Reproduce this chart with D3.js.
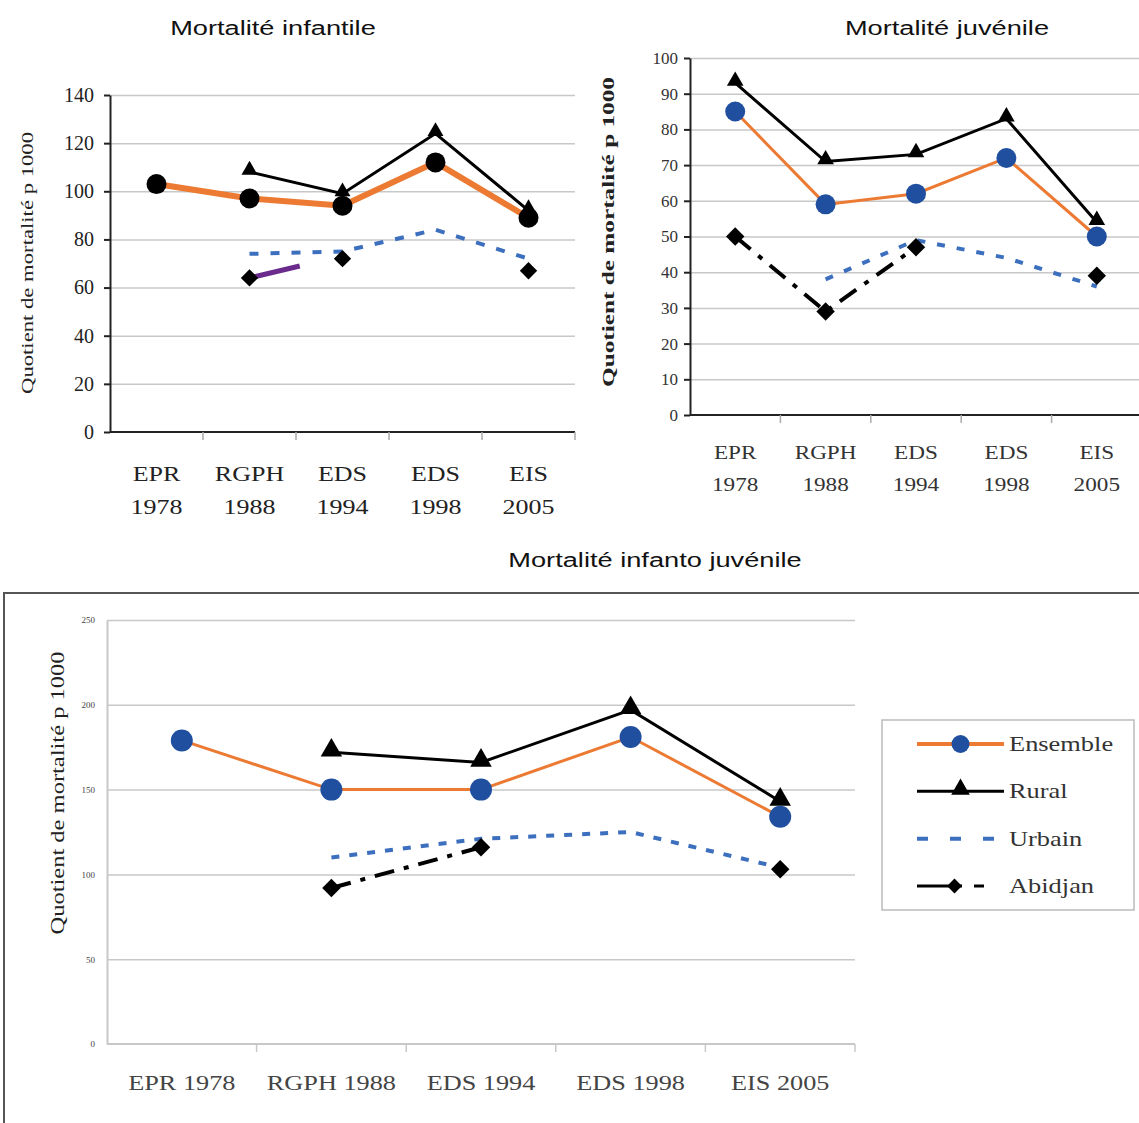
<!DOCTYPE html>
<html>
<head>
<meta charset="utf-8">
<script src="https://cdn.jsdelivr.net/npm/d3@7"></script>
<style>
  body { margin: 0; background: #fff; }
  svg { display: block; }
</style>
</head>
<body>
<svg id="chart" width="1139" height="1123"></svg>
<script>
// categories (x axis)
const categories = ["EPR 1978", "RGPH 1988", "EDS 1994", "EDS 1998", "EIS 2005"];

// Mortalité infantile
const infEnsemble = [103, 97, 94, 112, 89];
const infRural = [null, 108, 99, 124, 92];
const infUrbain = [null, 74, 75, 84, 72];
const infAbidjan = [null, 64, 72, null, 67];
const infTicks = [0, 20, 40, 60, 80, 100, 120, 140];

// Mortalité juvénile
const juvEnsemble = [85, 59, 62, 72, 50];
const juvRural = [93, 71, 73, 83, 54];
const juvUrbain = [null, 38, 49, 44, 36];
const juvAbidjan = [50, 29, 47, null, 39];
const juvTicks = [0, 10, 20, 30, 40, 50, 60, 70, 80, 90, 100];

// Mortalité infanto juvénile
const ijEnsemble = [179, 150, 150, 181, 134];
const ijRural = [null, 172, 166, 197, 143];
const ijUrbain = [null, 110, 121, 125, 104];
const ijAbidjan = [null, 92, 116, null, 103];
const ijTicks = [0, 50, 100, 150, 200, 250];

const legendNames = ["Ensemble", "Rural", "Urbain", "Abidjan"];

const orange = "#ec7a33";
const blue = "#1f4f9e";
const urbBlue = "#3d6fbf";
const serif = "'Liberation Serif', 'Times New Roman', serif";
const sans = "'Liberation Sans', Arial, sans-serif";

const svg = d3.select("#chart");

// the scanned figure has horizontally stretched lettering
function stretch(sel, k) {
  sel.each(function () {
    const w = this.getComputedTextLength();
    d3.select(this).attr("textLength", w * k).attr("lengthAdjust", "spacingAndGlyphs");
  });
}

function drawChart(opt) {
  const g = svg.append("g");
  const x = d3.scaleBand().domain(categories).range(opt.xRange);
  const y = d3.scaleLinear().domain([0, d3.max(opt.ticks)]).range(opt.yRange);
  const cx = c => x(c) + x.bandwidth() / 2;

  // title
  g.append("text")
    .attr("x", opt.titleX).attr("y", opt.titleY)
    .attr("text-anchor", "middle")
    .style("font-family", sans).style("font-size", "20px").attr("fill", "#111")
    .text(opt.title)
    .call(stretch, 1.36);

  // gridlines
  g.append("g")
    .attr("transform", `translate(${opt.xRange[0]},0)`)
    .call(d3.axisLeft(y).tickValues(opt.ticks.filter(t => t > 0))
      .tickSize(-(opt.gridEnd - opt.xRange[0])).tickFormat(""))
    .call(a => a.select(".domain").remove())
    .call(a => a.selectAll("line").attr("stroke", "#c8c8c8").attr("stroke-width", 1.5));

  // y axis
  g.append("g")
    .attr("transform", `translate(${opt.xRange[0]},0)`)
    .call(d3.axisLeft(y).tickValues(opt.ticks).tickSize(opt.yTick).tickPadding(opt.yPad).tickSizeOuter(0))
    .call(a => a.select(".domain").attr("stroke", opt.axisColor).attr("stroke-width", 2))
    .call(a => a.selectAll("line").attr("stroke", opt.axisColor).attr("stroke-width", 2))
    .call(a => a.selectAll("text")
      .style("font-family", serif).style("font-size", opt.yFont + "px").attr("fill", opt.tickColor));

  // x axis line + boundary ticks
  g.append("line")
    .attr("x1", opt.xRange[0]).attr("x2", opt.gridEnd)
    .attr("y1", y(0)).attr("y2", y(0))
    .attr("stroke", opt.axisColor).attr("stroke-width", 2);
  const bounds = categories.map(c => x(c)).concat([x.range()[1]]).slice(1);
  g.selectAll(".xtick").data(bounds).join("line")
    .attr("x1", d => d).attr("x2", d => d)
    .attr("y1", y(0)).attr("y2", y(0) + 8)
    .attr("stroke", opt.axisColor === "#222" ? "#aaa" : opt.axisColor).attr("stroke-width", 1.5);

  // x labels
  const xl = g.selectAll(".xlab").data(categories).join("text")
    .attr("text-anchor", "middle")
    .style("font-family", serif).style("font-size", opt.xFont + "px").attr("fill", opt.tickColor);
  if (opt.twoLine) {
    xl.each(function (c) {
      const parts = c.split(" ");
      const t = d3.select(this);
      t.append("tspan").attr("x", cx(c)).attr("y", opt.xLabY).text(parts[0]);
      t.append("tspan").attr("x", cx(c)).attr("y", opt.xLabY + opt.xLabGap).text(parts[1]);
    });
    xl.selectAll("tspan").call(stretch, opt.xStretch);
  } else {
    xl.attr("x", cx).attr("y", opt.xLabY).text(c => c).call(stretch, opt.xStretch);
  }

  // y label
  g.append("text")
    .attr("transform", `translate(${opt.yLabX},${opt.yLabY}) rotate(-90)`)
    .attr("text-anchor", "middle")
    .attr("textLength", opt.yLabLen).attr("lengthAdjust", "spacingAndGlyphs")
    .style("font-family", serif).style("font-size", opt.yLabFont + "px")
    .style("font-weight", opt.yLabBold ? "bold" : "normal").attr("fill", "#222")
    .text("Quotient de mortalité p 1000");

  const pts = vals => categories.map((c, i) => ({ c, v: vals[i] }));
  const line = d3.line().defined(d => d.v != null).x(d => cx(d.c)).y(d => y(d.v));

  // Urbain (dashed, no markers)
  g.append("path").datum(pts(opt.urbain))
    .attr("d", line).attr("fill", "none")
    .attr("stroke", urbBlue).attr("stroke-width", 4).attr("stroke-dasharray", opt.urbDash);

  // Abidjan line
  if (opt.abidjanLine) {
    g.append("path").datum(pts(opt.abidjan))
      .attr("d", line).attr("fill", "none")
      .attr("stroke", "#000").attr("stroke-width", 4).attr("stroke-dasharray", "20,10,5,10");
  }
  // stray purple segment in the infantile chart
  if (opt.purple) {
    const x0 = cx(categories[1]), x1 = cx(categories[2]);
    const y0 = y(opt.abidjan[1]), y1 = y(opt.abidjan[2]);
    g.append("line")
      .attr("x1", x0).attr("y1", y0)
      .attr("x2", x0 + (x1 - x0) * 0.54).attr("y2", y0 + (y1 - y0) * 0.62)
      .attr("stroke", "#6a2b8c").attr("stroke-width", 5);
  }
  g.selectAll(".dia").data(pts(opt.abidjan).filter(d => d.v != null)).join("path")
    .attr("d", d3.symbol(d3.symbolSquare, opt.diaSize))
    .attr("transform", d => `translate(${cx(d.c)},${y(d.v)}) rotate(45)`)
    .attr("fill", "#000");

  // Rural
  g.append("path").datum(pts(opt.rural))
    .attr("d", line).attr("fill", "none")
    .attr("stroke", "#000").attr("stroke-width", 3);
  g.selectAll(".tri").data(pts(opt.rural).filter(d => d.v != null)).join("path")
    .attr("d", d3.symbol(d3.symbolTriangle, opt.triSize))
    .attr("transform", d => `translate(${cx(d.c)},${y(d.v) - 2})`)
    .attr("fill", "#000");

  // Ensemble
  g.append("path").datum(pts(opt.ensemble))
    .attr("d", line).attr("fill", "none")
    .attr("stroke", orange).attr("stroke-width", opt.ensWidth);
  g.selectAll(".dot").data(pts(opt.ensemble)).join("circle")
    .attr("cx", d => cx(d.c)).attr("cy", d => y(d.v)).attr("r", opt.dotR)
    .attr("fill", opt.dotColor);
}

// Mortalité infantile
drawChart({
  title: "Mortalité infantile", titleX: 273, titleY: 35,
  xRange: [110, 575], yRange: [432, 95], gridEnd: 575, ticks: infTicks,
  axisColor: "#222", tickColor: "#222", yTick: 6, yPad: 10, yFont: 20,
  xFont: 20, xStretch: 1.3, twoLine: true, xLabY: 481, xLabGap: 33,
  yLabX: 33, yLabY: 263, yLabLen: 262, yLabFont: 16, yLabBold: false,
  ensemble: infEnsemble, rural: infRural, urbain: infUrbain, abidjan: infAbidjan,
  urbDash: "9,12", abidjanLine: false, purple: true,
  ensWidth: 6, dotR: 10, dotColor: "#000", triSize: 110, diaSize: 150
});

// Mortalité juvénile
drawChart({
  title: "Mortalité juvénile", titleX: 947, titleY: 35,
  xRange: [690, 1142], yRange: [415, 58], gridEnd: 1139, ticks: juvTicks,
  axisColor: "#222", tickColor: "#333", yTick: 6, yPad: 6, yFont: 17,
  xFont: 19, xStretch: 1.22, twoLine: true, xLabY: 459, xLabGap: 32,
  yLabX: 614, yLabY: 232, yLabLen: 310, yLabFont: 17, yLabBold: true,
  ensemble: juvEnsemble, rural: juvRural, urbain: juvUrbain, abidjan: juvAbidjan,
  urbDash: "8,12", abidjanLine: true, purple: false,
  ensWidth: 3, dotR: 10, dotColor: blue, triSize: 120, diaSize: 170
});

// frame around the bottom chart
svg.append("rect")
  .attr("x", 4).attr("y", 593).attr("width", 1145).attr("height", 540)
  .attr("fill", "none").attr("stroke", "#555").attr("stroke-width", 2);

// Mortalité infanto juvénile
drawChart({
  title: "Mortalité infanto juvénile", titleX: 655, titleY: 567,
  xRange: [107, 855], yRange: [1044, 620], gridEnd: 855, ticks: ijTicks,
  axisColor: "#c8c8c8", tickColor: "#444", yTick: 0, yPad: 12, yFont: 9,
  xFont: 21, xStretch: 1.25, twoLine: false, xLabY: 1090, xLabGap: 0,
  yLabX: 64, yLabY: 793, yLabLen: 283, yLabFont: 19, yLabBold: false,
  ensemble: ijEnsemble, rural: ijRural, urbain: ijUrbain, abidjan: ijAbidjan,
  urbDash: "8,10", abidjanLine: true, purple: false,
  ensWidth: 3, dotR: 11, dotColor: blue, triSize: 200, diaSize: 170
});

// legend
const legend = svg.append("g");
legend.append("rect")
  .attr("x", 882).attr("y", 720).attr("width", 252).attr("height", 190)
  .attr("fill", "#fff").attr("stroke", "#bbb").attr("stroke-width", 1.5);
const ly = d3.scalePoint().domain(legendNames).range([744, 886]);
const lx0 = 917, lx1 = 1004, lmid = (lx0 + lx1) / 2;
const styles = {
  Ensemble: { stroke: orange, w: 4, dash: null },
  Rural: { stroke: "#000", w: 3, dash: null },
  Urbain: { stroke: urbBlue, w: 4, dash: "11,22" },
  Abidjan: { stroke: "#000", w: 3, dash: "45,12,10,30" }
};
legendNames.forEach(n => {
  const s = styles[n];
  legend.append("line")
    .attr("x1", lx0).attr("x2", lx1).attr("y1", ly(n)).attr("y2", ly(n))
    .attr("stroke", s.stroke).attr("stroke-width", s.w)
    .attr("stroke-dasharray", s.dash);
  if (n === "Ensemble") legend.append("circle").attr("cx", lmid).attr("cy", ly(n)).attr("r", 9).attr("fill", blue);
  if (n === "Rural") legend.append("path").attr("d", d3.symbol(d3.symbolTriangle, 150)).attr("transform", `translate(${lmid},${ly(n) - 2})`);
  if (n === "Abidjan") legend.append("path").attr("d", d3.symbol(d3.symbolSquare, 110)).attr("transform", `translate(${lmid - 6},${ly(n)}) rotate(45)`);
  legend.append("text")
    .attr("x", 1009).attr("y", ly(n) + 7)
    .style("font-family", serif).style("font-size", "22px").attr("fill", "#333")
    .text(n)
    .call(stretch, 1.2);
});
</script>
</body>
</html>
